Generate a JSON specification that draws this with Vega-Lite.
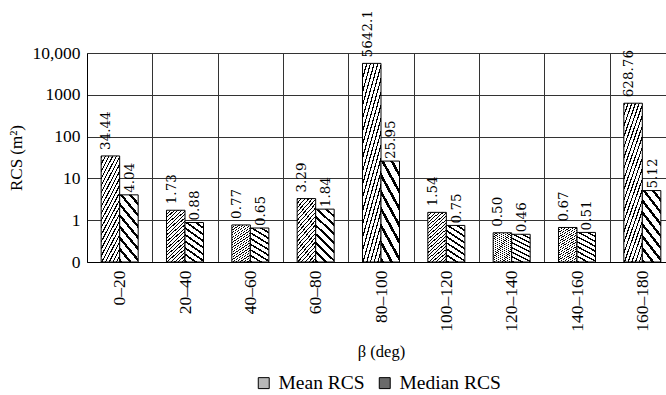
{
  "$schema": "https://vega.github.io/schema/vega-lite/v6.json",
  "width": 588,
  "height": 209,
  "autosize": {"type": "none"},
  "padding": {"left": 87, "top": 53, "right": -9, "bottom": 133},
  "background": "white",
  "config": {
    "view": {"stroke": null},
    "font": "Liberation Serif, DejaVu Serif, serif",
    "axis": {"labelColor": "#000", "titleColor": "#000", "titleFontWeight": "normal"},
    "legend": {"labelColor": "#000"}
  },
  "data": {
    "values": [
      {"beta": "0–20", "series": "Mean RCS", "value": 34.44, "label": "34.44"},
      {"beta": "0–20", "series": "Median RCS", "value": 4.04, "label": "4.04"},
      {"beta": "20–40", "series": "Mean RCS", "value": 1.73, "label": "1.73"},
      {"beta": "20–40", "series": "Median RCS", "value": 0.88, "label": "0.88"},
      {"beta": "40–60", "series": "Mean RCS", "value": 0.77, "label": "0.77"},
      {"beta": "40–60", "series": "Median RCS", "value": 0.65, "label": "0.65"},
      {"beta": "60–80", "series": "Mean RCS", "value": 3.29, "label": "3.29"},
      {"beta": "60–80", "series": "Median RCS", "value": 1.84, "label": "1.84"},
      {"beta": "80–100", "series": "Mean RCS", "value": 5642.1, "label": "5642.1"},
      {"beta": "80–100", "series": "Median RCS", "value": 25.95, "label": "25.95"},
      {"beta": "100–120", "series": "Mean RCS", "value": 1.54, "label": "1.54"},
      {"beta": "100–120", "series": "Median RCS", "value": 0.75, "label": "0.75"},
      {"beta": "120–140", "series": "Mean RCS", "value": 0.50, "label": "0.50"},
      {"beta": "120–140", "series": "Median RCS", "value": 0.46, "label": "0.46"},
      {"beta": "140–160", "series": "Mean RCS", "value": 0.67, "label": "0.67"},
      {"beta": "140–160", "series": "Median RCS", "value": 0.51, "label": "0.51"},
      {"beta": "160–180", "series": "Mean RCS", "value": 628.76, "label": "628.76"},
      {"beta": "160–180", "series": "Median RCS", "value": 5.12, "label": "5.12"}
    ]
  },
  "encoding": {
    "x": {
      "field": "beta", "type": "nominal", "sort": null,
      "scale": {"paddingInner": 0, "paddingOuter": 0},
      "axis": {
        "title": "β (deg)", "titleFont": "Liberation Serif, DejaVu Serif, serif", "titleFontSize": 16.5, "titlePadding": 12,
        "labelAngle": -90, "labelFont": "Liberation Serif, DejaVu Serif, serif", "labelFontSize": 17.5, "labelPadding": 8,
        "ticks": false, "tickBand": "extent", "grid": true, "gridColor": "#333", "gridWidth": 1,
        "domain": true, "domainColor": "#000", "domainWidth": 1
      }
    },
    "xOffset": {"field": "series", "type": "nominal", "sort": ["Mean RCS", "Median RCS"], "scale": {"paddingInner": 0, "paddingOuter": 0.765}},
    "y": {
      "field": "value", "type": "quantitative", "stack": null,
      "scale": {"type": "log", "domain": [0.1, 10000]},
      "axis": {
        "title": "RCS (m²)", "titleFont": "Liberation Serif, DejaVu Serif, serif", "titleFontSize": 17, "titlePadding": 6,
        "values": [0.1, 1, 10, 100, 1000, 10000],
        "labelExpr": "datum.value < 0.5 ? '0' : datum.value > 5000 ? '10,000' : format(datum.value, 'd')",
        "labelFont": "Liberation Serif, DejaVu Serif, serif", "labelFontSize": 17.5, "labelPadding": 7,
        "ticks": false, "grid": true, "gridColor": "#333", "gridWidth": 1,
        "domain": true, "domainColor": "#000", "domainWidth": 1
      }
    }
  },
  "layer": [
    {
      "mark": {"type": "bar", "stroke": "#000", "strokeWidth": 1},
      "encoding": {
        "y2": {"datum": 0.1},
        "fill": {
          "field": "series", "type": "nominal",
          "scale": {"domain": ["Mean RCS", "Median RCS"], "range": ["#b8b8b8", "#6a6a6a"]},
          "condition": [
            {"test": "datum.series == 'Mean RCS'", "value":
              {"gradient": "linear", "x1": 0, "y1": 0, "x2": 0.4, "y2": 1.2, "stops": [
                {"offset": 0, "color": "#000"}, {"offset": 0.016, "color": "#000"}, {"offset": 0.016, "color": "#fff"}, {"offset": 0.05, "color": "#fff"},
                {"offset": 0.05, "color": "#000"}, {"offset": 0.066, "color": "#000"}, {"offset": 0.066, "color": "#fff"}, {"offset": 0.1, "color": "#fff"},
                {"offset": 0.1, "color": "#000"}, {"offset": 0.116, "color": "#000"}, {"offset": 0.116, "color": "#fff"}, {"offset": 0.15, "color": "#fff"},
                {"offset": 0.15, "color": "#000"}, {"offset": 0.166, "color": "#000"}, {"offset": 0.166, "color": "#fff"}, {"offset": 0.2, "color": "#fff"},
                {"offset": 0.2, "color": "#000"}, {"offset": 0.216, "color": "#000"}, {"offset": 0.216, "color": "#fff"}, {"offset": 0.25, "color": "#fff"},
                {"offset": 0.25, "color": "#000"}, {"offset": 0.266, "color": "#000"}, {"offset": 0.266, "color": "#fff"}, {"offset": 0.3, "color": "#fff"},
                {"offset": 0.3, "color": "#000"}, {"offset": 0.316, "color": "#000"}, {"offset": 0.316, "color": "#fff"}, {"offset": 0.35, "color": "#fff"},
                {"offset": 0.35, "color": "#000"}, {"offset": 0.366, "color": "#000"}, {"offset": 0.366, "color": "#fff"}, {"offset": 0.4, "color": "#fff"},
                {"offset": 0.4, "color": "#000"}, {"offset": 0.416, "color": "#000"}, {"offset": 0.416, "color": "#fff"}, {"offset": 0.45, "color": "#fff"},
                {"offset": 0.45, "color": "#000"}, {"offset": 0.466, "color": "#000"}, {"offset": 0.466, "color": "#fff"}, {"offset": 0.5, "color": "#fff"},
                {"offset": 0.5, "color": "#000"}, {"offset": 0.516, "color": "#000"}, {"offset": 0.516, "color": "#fff"}, {"offset": 0.55, "color": "#fff"},
                {"offset": 0.55, "color": "#000"}, {"offset": 0.566, "color": "#000"}, {"offset": 0.566, "color": "#fff"}, {"offset": 0.6, "color": "#fff"},
                {"offset": 0.6, "color": "#000"}, {"offset": 0.616, "color": "#000"}, {"offset": 0.616, "color": "#fff"}, {"offset": 0.65, "color": "#fff"},
                {"offset": 0.65, "color": "#000"}, {"offset": 0.666, "color": "#000"}, {"offset": 0.666, "color": "#fff"}, {"offset": 0.7, "color": "#fff"},
                {"offset": 0.7, "color": "#000"}, {"offset": 0.716, "color": "#000"}, {"offset": 0.716, "color": "#fff"}, {"offset": 0.75, "color": "#fff"},
                {"offset": 0.75, "color": "#000"}, {"offset": 0.766, "color": "#000"}, {"offset": 0.766, "color": "#fff"}, {"offset": 0.8, "color": "#fff"},
                {"offset": 0.8, "color": "#000"}, {"offset": 0.816, "color": "#000"}, {"offset": 0.816, "color": "#fff"}, {"offset": 0.85, "color": "#fff"},
                {"offset": 0.85, "color": "#000"}, {"offset": 0.866, "color": "#000"}, {"offset": 0.866, "color": "#fff"}, {"offset": 0.9, "color": "#fff"},
                {"offset": 0.9, "color": "#000"}, {"offset": 0.916, "color": "#000"}, {"offset": 0.916, "color": "#fff"}, {"offset": 0.95, "color": "#fff"},
                {"offset": 0.95, "color": "#000"}, {"offset": 0.966, "color": "#000"}, {"offset": 0.966, "color": "#fff"}, {"offset": 1, "color": "#fff"}
              ]}
            },
            {"test": "datum.series == 'Median RCS'", "value":
              {"gradient": "linear", "x1": 0, "y1": 1, "x2": 0.4, "y2": -0.2, "stops": [
                {"offset": 0, "color": "#000"}, {"offset": 0.04, "color": "#000"}, {"offset": 0.04, "color": "#fff"}, {"offset": 0.125, "color": "#fff"},
                {"offset": 0.125, "color": "#000"}, {"offset": 0.165, "color": "#000"}, {"offset": 0.165, "color": "#fff"}, {"offset": 0.25, "color": "#fff"},
                {"offset": 0.25, "color": "#000"}, {"offset": 0.29, "color": "#000"}, {"offset": 0.29, "color": "#fff"}, {"offset": 0.375, "color": "#fff"},
                {"offset": 0.375, "color": "#000"}, {"offset": 0.415, "color": "#000"}, {"offset": 0.415, "color": "#fff"}, {"offset": 0.5, "color": "#fff"},
                {"offset": 0.5, "color": "#000"}, {"offset": 0.54, "color": "#000"}, {"offset": 0.54, "color": "#fff"}, {"offset": 0.625, "color": "#fff"},
                {"offset": 0.625, "color": "#000"}, {"offset": 0.665, "color": "#000"}, {"offset": 0.665, "color": "#fff"}, {"offset": 0.75, "color": "#fff"},
                {"offset": 0.75, "color": "#000"}, {"offset": 0.79, "color": "#000"}, {"offset": 0.79, "color": "#fff"}, {"offset": 0.875, "color": "#fff"},
                {"offset": 0.875, "color": "#000"}, {"offset": 0.915, "color": "#000"}, {"offset": 0.915, "color": "#fff"}, {"offset": 1, "color": "#fff"}
              ]}
            }
          ],
          "legend": {
            "orient": "none", "legendX": 167, "legendY": 320, "padding": 0,
            "direction": "horizontal", "title": null,
            "symbolType": "square", "symbolSize": 120, "symbolStrokeColor": "#000", "symbolStrokeWidth": 1,
            "labelFont": "Liberation Serif, DejaVu Serif, serif", "labelFontSize": 19.5, "labelOffset": 5, "columnPadding": 10
          }
        }
      }
    },
    {
      "transform": [{"filter": "datum.series == 'Mean RCS'"}],
      "mark": {"type": "text", "angle": 270, "align": "left", "baseline": "middle", "dx": 6, "dy": -4, "font": "DejaVu Serif, Liberation Serif, serif", "fontSize": 13.5, "color": "#000"},
      "encoding": {"text": {"field": "label"}}
    },
    {
      "transform": [{"filter": "datum.series == 'Median RCS'"}],
      "mark": {"type": "text", "angle": 270, "align": "left", "baseline": "middle", "dx": 2, "dy": 1, "font": "DejaVu Serif, Liberation Serif, serif", "fontSize": 13.5, "color": "#000"},
      "encoding": {"text": {"field": "label"}}
    }
  ]
}
